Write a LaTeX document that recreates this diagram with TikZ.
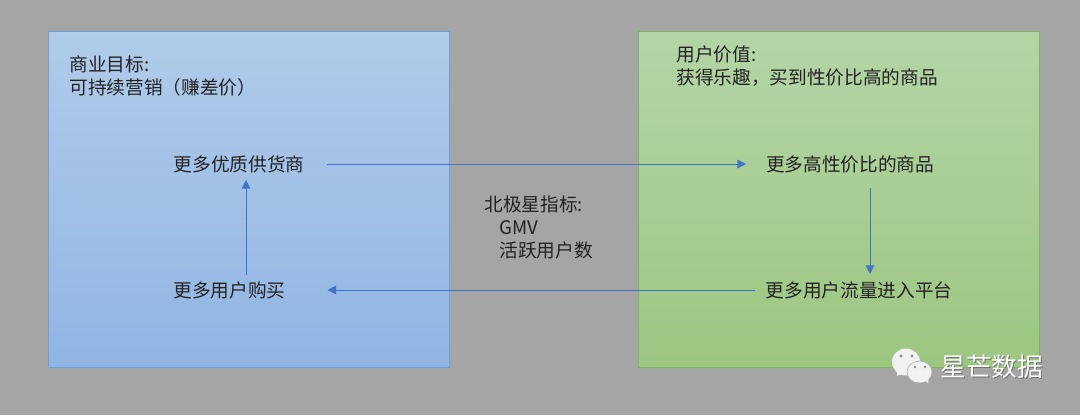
\documentclass[tikz,border=0pt]{standalone}
\usepackage{fontspec}
\setmainfont{Noto Sans CJK SC}
\usetikzlibrary{arrows.meta,calc}
\definecolor{bgc}{HTML}{A5A5A5}
\definecolor{lineblue}{HTML}{4472C4}
\definecolor{txt}{HTML}{222222}
\definecolor{bluetop}{HTML}{B1CBE9}
\definecolor{bluebot}{HTML}{90B5E3}
\definecolor{blueedge}{HTML}{6C9FDC}
\definecolor{greentop}{HTML}{B4D5A7}
\definecolor{greenbot}{HTML}{9CC681}
\definecolor{greenedge}{HTML}{7DB45E}
\definecolor{wechat}{HTML}{F2F2F2}
\newcommand{\fwL}{\symbol{"FF08}}
\newcommand{\fwR}{\symbol{"FF09}}
\newcommand{\fwC}{\symbol{"FF0C}}
\tikzset{
  x=0.75pt,y=-0.75pt,
  panel/.style={anchor=north west,inner sep=0pt,outer sep=0pt,minimum width=300.4pt,minimum height=251.9pt,line width=0.6pt},
  note/.style={anchor=north west,inner sep=0pt,outer sep=0pt,align=left,text=txt,font=\fontsize{14pt}{17.4pt}\selectfont},
  item/.style={anchor=center,inner ysep=9pt,outer sep=0pt,text=txt,font=\fontsize{14pt}{17pt}\selectfont},
  flow/.style={draw=lineblue,line width=0.7pt,-{Triangle[length=6.5pt,width=6.5pt]}},
  brand/.style={anchor=west,inner sep=0pt,font=\fontsize{19.3pt}{20pt}\selectfont}
}
\begin{document}
\begin{tikzpicture}
\useasboundingbox (0,0) rectangle (1080,415);
\fill[bgc] (0,0) rectangle (1080,415);
\node[panel,draw=blueedge,top color=bluetop,bottom color=bluebot] (left) at (48.5,31.5) {};
\node[panel,draw=greenedge,top color=greentop,bottom color=greenbot] (right) at (638.5,31.5) {};
\node[note] (goal) at (69.5,55.5) {商业目标:\\可持续营销\fwL 赚差价\fwR};
\node[note] (value) at (676.5,45.5) {用户价值:\\获得乐趣\fwC 买到性价比高的商品};
\node[note] (north) at (484.5,195.5) {北极星指标:\\\hspace*{11.25pt}GMV\\\hspace*{11.25pt}活跃用户数};
\node[item,inner xsep=17pt] (supplier) at (239,164) {更多优质供货商};
\node[item,inner xsep=31.5pt] (buy) at (229.5,290) {更多用户购买};
\node[item,inner xsep=15pt] (goods) at (850,164) {更多高性价比的商品};
\node[item,inner xsep=8.25pt] (traffic) at (859,290) {更多用户流量进入平台};
\coordinate (upS) at (246,275);
\coordinate (upE) at (246,180);
\coordinate (dnS) at (870,188);
\coordinate (dnE) at (870,274);
\draw[flow] (supplier.east) -- (goods.west);
\draw[flow] (dnS) -- (dnE);
\draw[flow] (traffic.west) -- (buy.east);
\draw[flow] (upS) -- (upE);
% watermark
\fill[wechat] (906,362) ellipse (14 and 13.5);
\fill[wechat] (897,371) -- (897,376) -- (905,373) -- cycle;
\filldraw[fill=wechat,draw=black!30,line width=0.5pt] (919.5,372) ellipse (12.5 and 11);
\fill[wechat] (924,380) -- (928.5,383.5) -- (928,376) -- cycle;
\fill[black!45] (901,356) circle (1.6) (912,356) circle (1.6) (915,367) circle (1.4) (925,367) circle (1.4);
\node[brand,text=black!55] (wmshadow) at (941,367.5) {星芒数据};
\node[brand,text=white] (wm) at (940,366.5) {星芒数据};
\end{tikzpicture}
\end{document}
